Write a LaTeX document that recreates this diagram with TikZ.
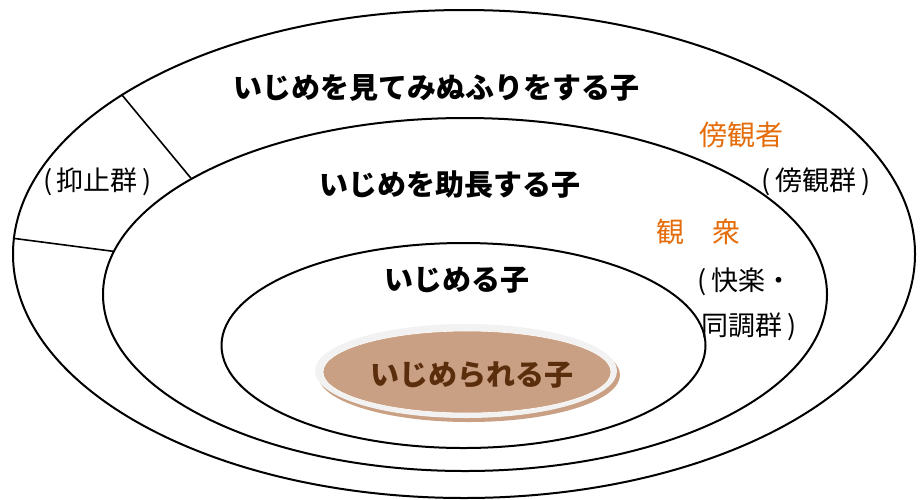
\documentclass[tikz,border=0pt]{standalone}
\usepackage{fontspec}
\usepackage{tikz}
\usetikzlibrary{shapes.geometric}
\newfontfamily\jpfont{Noto Sans CJK JP}
\definecolor{accent}{HTML}{E46C0A}
\definecolor{disc}{HTML}{C9A083}
\definecolor{discrim}{HTML}{F2F2F2}
\definecolor{disctext}{HTML}{5A2D0C}
\tikzset{
  ring/.style={ellipse, draw, line width=2pt, inner sep=0pt},
  title/.style={font=\jpfont\bfseries\fontsize{29}{29}\selectfont},
  group/.style={font=\jpfont\fontsize{27}{27}\selectfont},
  role/.style={font=\jpfont\fontsize{28}{28}\selectfont, text=accent}
}
\begin{document}
\begin{tikzpicture}[x=1pt, y=-1pt]
            \useasboundingbox (0,0) rectangle (920,499);

            % Three rings, outer to inner
            \node[ring, minimum width=902, minimum height=488] (outer) at (464,254) {};
            \node[ring, minimum width=724, minimum height=353] (middle) at (465,294.5) {};
            \node[ring, minimum width=484, minimum height=205] (inner) at (463.5,345.5) {};

            % Disc in the middle
            \node[ellipse, fill=disc, minimum width=302, minimum height=94] (shadow) at (469,375) {};
            \node[ellipse, fill=discrim, minimum width=302, minimum height=94] (rim) at (466,371) {};
            \node[ellipse, fill=disc, draw=white, line width=0.6pt, minimum width=288, minimum height=82] (core) at (467,372) {};

            % Dividers of the outer band
            \draw[line width=1.6pt] (outer.155.7) -- (middle.157.5);
            \draw[line width=1.6pt] (outer.178.6) -- (middle.173.2);

            % Labels
            \node[title] (t1) at (436,88) {いじめを見てみぬふりをする子};
            \node[title] (t2) at (450,185) {いじめを助長する子};
            \node[title] (t3) at (457,280) {いじめる子};
            \node[title, text=disctext] (t4) at (472,375) {いじめられる子};

            \node[group] (g1) at (97.5,182) {(\,抑止群\,)};
            \node[role] (r1) at (741,135) {傍観者};
            \node[group] (g2) at (816,182) {(\,傍観群\,)};
            \node[role] (r2) at (698,232) {観\hspace{1em}衆};
            \node[group, anchor=west] (g3) at (694,282) {(\,快楽・};
            \node[group, anchor=west] (g4) at (698,327) {同調群\,)};
        \end{tikzpicture}
\end{document}
